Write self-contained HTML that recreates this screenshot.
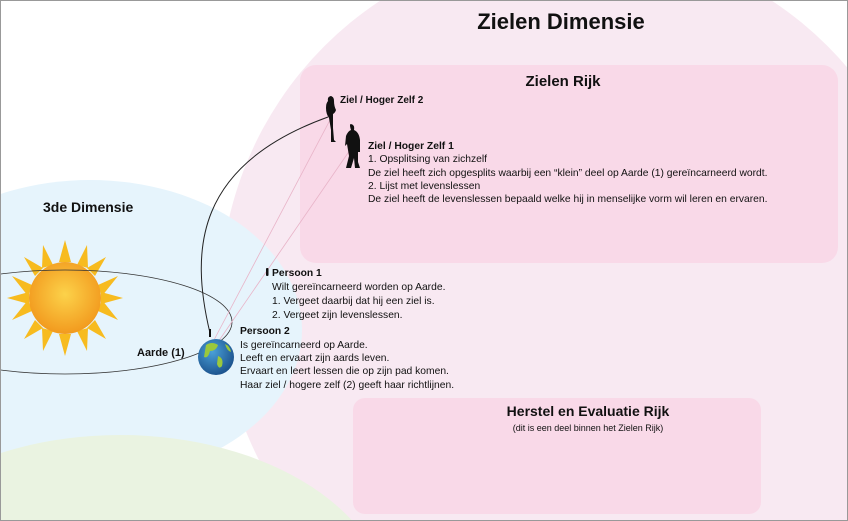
<!DOCTYPE html>
<html><head><meta charset="utf-8"><style>
html,body{margin:0;padding:0;background:#fff;width:848px;height:521px;overflow:hidden;}
svg{display:block;font-family:"Liberation Sans",sans-serif;overflow:hidden;}
</style></head><body>
<svg width="848" height="521" viewBox="0 0 848 521" xmlns="http://www.w3.org/2000/svg">
<defs>
<radialGradient id="sun" cx="0.5" cy="0.45" r="0.55"><stop offset="0" stop-color="#fcd24a"/><stop offset="1" stop-color="#f29a1e"/></radialGradient>
<radialGradient id="earth" cx="0.4" cy="0.35" r="0.7"><stop offset="0" stop-color="#4aa0d8"/><stop offset="1" stop-color="#1a4f8a"/></radialGradient>
<clipPath id="cl"><rect x="0" y="0" width="848" height="521"/></clipPath>
</defs>
<g clip-path="url(#cl)">
<rect width="848" height="521" fill="#fff"/>
<circle cx="576" cy="298" r="356" fill="#f8e9f2"/>
<ellipse cx="90" cy="330" rx="212" ry="150" fill="#e6f4fc"/>
<ellipse cx="120" cy="610" rx="270" ry="175" fill="#eaf3e1"/>
<rect x="300" y="65" width="538" height="198" rx="16" fill="#f9d9e8"/>
<rect x="353" y="398" width="408" height="116" rx="12" fill="#f9d9e8"/>
<g fill="#f7bb1f">
<polygon points="65,240 71,262 59,262"/><polygon points="65,356 71,334 59,334"/>
<polygon points="7,298 29,292 29,304"/><polygon points="123,298 101,292 101,304"/>
<polygon points="24,257 43,268 35,276"/><polygon points="106,257 87,268 95,276"/>
<polygon points="24,339 43,328 35,320"/><polygon points="106,339 87,328 95,320"/>
<polygon points="43,245 53,265 42,268"/><polygon points="87,245 77,265 88,268"/>
<polygon points="43,351 53,331 42,328"/><polygon points="87,351 77,331 88,328"/>
<polygon points="12,276 32,285 28,296"/><polygon points="118,276 98,285 102,296"/>
<polygon points="12,320 32,311 28,300"/><polygon points="118,320 98,311 102,300"/>
</g>
<circle cx="65" cy="298" r="36" fill="url(#sun)"/>
<ellipse cx="65" cy="322" rx="167" ry="52" fill="none" stroke="#333" stroke-width="0.8"/>
<line x1="214" y1="340" x2="330" y2="120" stroke="#e8b4c8" stroke-width="0.8"/>
<line x1="218" y1="342" x2="350" y2="150" stroke="#e8b4c8" stroke-width="0.8"/>
<path d="M210,333 C190,250 195,165 328,117" fill="none" stroke="#222" stroke-width="1"/>
<circle cx="216" cy="357" r="18" fill="url(#earth)"/>
<path d="M206,345 q6,-4 12,0 q-2,6 -8,6 q-2,8 -6,6 z M218,356 q6,2 4,10 q-3,4 -5,-2 z M225,344 q5,2 6,8 q-4,-1 -6,-8z" fill="#9bc83c"/>
<rect x="209" y="329" width="2" height="8" fill="#111"/>
<path d="M330,96 q4,0 4,5 q0,5 2,9 q-1,3 -3,4 l0,14 l1,12 l2,2 l-5,0 l0,-12 l-2,-12 q-3,-4 -3,-10 q0,-5 2,-7 q-1,-5 4,-5z" fill="#111"/>
<path d="M350,124 q5,0 4,6 q5,2 6,10 l0,12 l-2,0 l0,10 l2,6 l-5,0 l-1,-10 l-3,10 l-5,0 l3,-12 l-2,-12 l-2,2 l1,-10 q2,-5 5,-6 q-2,-6 0,-6z" fill="#111"/>
<rect x="266" y="268" width="2.5" height="8" rx="1" fill="#111"/>
<g fill="#111">
<text x="561" y="29" font-size="22" font-weight="bold" text-anchor="middle">Zielen Dimensie</text>
<text x="563" y="86" font-size="15" font-weight="bold" text-anchor="middle">Zielen Rijk</text>
<text x="340" y="103" font-size="10" font-weight="bold">Ziel / Hoger Zelf 2</text>
<text x="368" y="149" font-size="10.3" font-weight="bold">Ziel / Hoger Zelf 1</text>
<g font-size="10.3">
<text x="368" y="162">1. Opsplitsing van zichzelf</text>
<text x="368" y="176">De ziel heeft zich opgesplits waarbij een “klein” deel op Aarde (1) gereïncarneerd wordt.</text>
<text x="368" y="189">2. Lijst met levenslessen</text>
<text x="368" y="202">De ziel heeft de levenslessen bepaald welke hij in menselijke vorm wil leren en ervaren.</text>
</g>
<text x="272" y="276" font-size="10.3" font-weight="bold">Persoon 1</text>
<g font-size="10.3">
<text x="272" y="290">Wilt gereïncarneerd worden op Aarde.</text>
<text x="272" y="304">1. Vergeet daarbij dat hij een ziel is.</text>
<text x="272" y="318">2. Vergeet zijn levenslessen.</text>
</g>
<text x="240" y="334" font-size="10.3" font-weight="bold">Persoon 2</text>
<g font-size="10.3">
<text x="240" y="348">Is gereïncarneerd op Aarde.</text>
<text x="240" y="361">Leeft en ervaart zijn aards leven.</text>
<text x="240" y="374">Ervaart en leert lessen die op zijn pad komen.</text>
<text x="240" y="388">Haar ziel / hogere zelf (2) geeft haar richtlijnen.</text>
</g>
<text x="43" y="212" font-size="14" font-weight="bold">3de Dimensie</text>
<text x="137" y="356" font-size="11" font-weight="bold">Aarde (1)</text>
<text x="588" y="416" font-size="14" font-weight="bold" text-anchor="middle">Herstel en Evaluatie Rijk</text>
<text x="588" y="431" font-size="9" text-anchor="middle">(dit is een deel binnen het Zielen Rijk)</text>
</g>
</g>
<rect x="0.5" y="0.5" width="847" height="520" fill="none" stroke="#999" stroke-width="1"/>
</svg>
</body></html>
